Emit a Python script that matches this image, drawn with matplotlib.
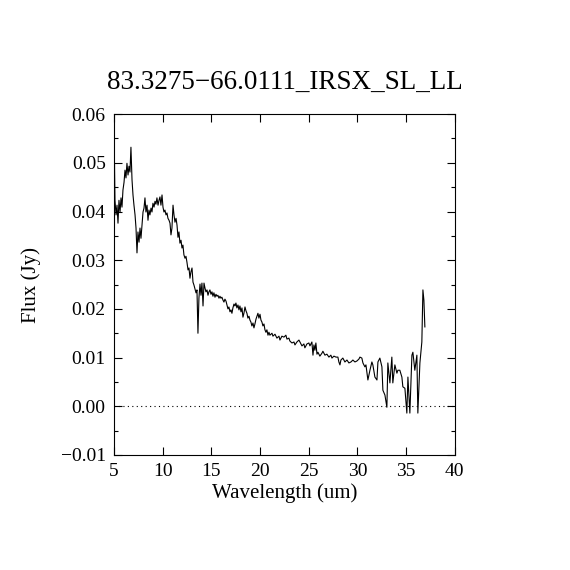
import numpy as np
import matplotlib
matplotlib.use("Agg")
import matplotlib.pyplot as plt
from matplotlib.ticker import MultipleLocator, FuncFormatter

# spectrum (wavelength in um, flux in Jy)
wave = np.array([
    5.00, 5.05, 5.10, 5.21, 5.31, 5.41, 5.51, 5.62, 5.72, 5.82, 5.92, 6.03, 6.13, 6.23,
    6.33, 6.44, 6.54, 6.64, 6.74, 6.85, 6.95, 7.05, 7.16, 7.26, 7.36, 7.46, 7.57, 7.67,
    7.77, 7.87, 7.98, 8.08, 8.18, 8.28, 8.39, 8.49, 8.59, 8.69, 8.80, 8.90, 9.00, 9.11,
    9.21, 9.31, 9.41, 9.52, 9.62, 9.72, 9.82, 9.93, 10.03, 10.13, 10.23, 10.34, 10.44,
    10.54, 10.65, 10.75, 10.85, 10.95, 11.06, 11.16, 11.26, 11.37, 11.47, 11.57, 11.67,
    11.77, 11.88, 11.98, 12.08, 12.18, 12.29, 12.39, 12.49, 12.60, 12.70, 12.80, 12.90,
    13.01, 13.11, 13.21, 13.31, 13.42, 13.52, 13.62, 13.72, 13.83, 13.93, 14.03, 14.14,
    14.24, 14.34, 14.44, 14.55, 14.65, 14.75, 14.85, 14.96, 15.06, 15.16, 15.26, 15.37,
    15.47, 15.57, 15.67, 15.78, 15.88, 15.98, 16.08, 16.19, 16.29, 16.39, 16.50, 16.60,
    16.70, 16.80, 16.91, 17.01, 17.11, 17.21, 17.32, 17.42, 17.52, 17.62, 17.73, 17.83,
    17.93, 18.04, 18.14, 18.24, 18.34, 18.45, 18.55, 18.65, 18.75, 18.86, 18.96, 19.06,
    19.16, 19.27, 19.37, 19.47, 19.58, 19.68, 19.78, 19.88, 19.99, 20.09, 20.19, 20.29,
    20.40, 20.50, 20.60, 20.70, 20.81, 20.91, 21.01, 21.22, 21.32, 21.53, 21.73, 21.94,
    22.04, 22.24, 22.45, 22.65, 22.76, 22.96, 23.06, 23.27, 23.48, 23.58, 23.78, 23.99,
    24.09, 24.30, 24.50, 24.60, 24.81, 25.01, 25.12, 25.32, 25.43, 25.53, 25.63, 25.73,
    25.84, 25.94, 26.14, 26.35, 26.45, 26.66, 26.86, 27.07, 27.27, 27.38, 27.58, 27.79,
    27.99, 28.09, 28.20, 28.30, 28.50, 28.71, 28.92, 29.12, 29.33, 29.53, 29.74, 29.94,
    30.15, 30.25, 30.45, 30.56, 30.76, 30.87, 30.97, 31.07, 31.28, 31.48, 31.58, 31.79,
    32.00, 32.10, 32.30, 32.51, 32.61, 32.82, 33.02, 33.12, 33.33, 33.53, 33.63, 33.84,
    34.05, 34.15, 34.35, 34.56, 34.66, 34.87, 35.07, 35.18, 35.38, 35.59, 35.69, 35.89,
    36.10, 36.20, 36.41, 36.61, 36.72, 36.82, 36.92])
flux = np.array([
    0.0347, 0.0499, 0.0423, 0.0393, 0.0413, 0.0376, 0.0423, 0.0399, 0.0428, 0.0409, 0.0444,
    0.0460, 0.0485, 0.0469, 0.0499, 0.0475, 0.0493, 0.0481, 0.0532, 0.0465, 0.0434, 0.0413,
    0.0393, 0.0366, 0.0315, 0.0358, 0.0337, 0.0366, 0.0345, 0.0372, 0.0399, 0.0407, 0.0428,
    0.0399, 0.0413, 0.0382, 0.0403, 0.0393, 0.0407, 0.0399, 0.0417, 0.0409, 0.0421, 0.0415,
    0.0428, 0.0413, 0.0423, 0.0430, 0.0413, 0.0434, 0.0409, 0.0399, 0.0403, 0.0393, 0.0397,
    0.0386, 0.0382, 0.0376, 0.0352, 0.0366, 0.0413, 0.0393, 0.0378, 0.0386, 0.0372, 0.0347,
    0.0358, 0.0335, 0.0341, 0.0325, 0.0331, 0.0311, 0.0304, 0.0308, 0.0296, 0.0280, 0.0284,
    0.0263, 0.0276, 0.0284, 0.0255, 0.0249, 0.0241, 0.0233, 0.0239, 0.0150, 0.0222, 0.0251,
    0.0228, 0.0253, 0.0206, 0.0253, 0.0243, 0.0235, 0.0239, 0.0228, 0.0235, 0.0239, 0.0230,
    0.0235, 0.0226, 0.0233, 0.0224, 0.0230, 0.0226, 0.0228, 0.0222, 0.0226, 0.0222, 0.0224,
    0.0218, 0.0214, 0.0220, 0.0216, 0.0208, 0.0200, 0.0204, 0.0194, 0.0198, 0.0191, 0.0202,
    0.0210, 0.0206, 0.0212, 0.0202, 0.0208, 0.0198, 0.0206, 0.0194, 0.0202, 0.0183, 0.0191,
    0.0204, 0.0196, 0.0191, 0.0181, 0.0185, 0.0177, 0.0173, 0.0165, 0.0171, 0.0161, 0.0169,
    0.0179, 0.0185, 0.0191, 0.0181, 0.0189, 0.0177, 0.0173, 0.0165, 0.0169, 0.0157, 0.0152,
    0.0157, 0.0146, 0.0152, 0.0146, 0.0150, 0.0144, 0.0148, 0.0140, 0.0144, 0.0136, 0.0144,
    0.0142, 0.0146, 0.0138, 0.0140, 0.0134, 0.0130, 0.0132, 0.0126, 0.0132, 0.0136, 0.0132,
    0.0124, 0.0128, 0.0120, 0.0128, 0.0130, 0.0124, 0.0132, 0.0105, 0.0126, 0.0115, 0.0130,
    0.0107, 0.0111, 0.0103, 0.0109, 0.0113, 0.0105, 0.0107, 0.0101, 0.0105, 0.0099, 0.0103,
    0.0101, 0.0101, 0.0091, 0.0085, 0.0095, 0.0099, 0.0091, 0.0095, 0.0089, 0.0091, 0.0095,
    0.0091, 0.0093, 0.0097, 0.0101, 0.0099, 0.0089, 0.0081, 0.0085, 0.0070, 0.0054, 0.0074,
    0.0091, 0.0085, 0.0060, 0.0054, 0.0091, 0.0099, 0.0081, 0.0033, 0.0023, -0.0002, 0.0089,
    0.0048, 0.0101, 0.0048, 0.0085, 0.0068, 0.0074, 0.0074, 0.0060, 0.0040, 0.0037, -0.0014,
    0.0060, -0.0014, 0.0105, 0.0111, 0.0074, 0.0105, -0.0014, 0.0089, 0.0132, 0.0239, 0.0218,
    0.0163])

title = "83.3275\u221266.0111_IRSX_SL_LL"
xlabel = "Wavelength (um)"
ylabel = "Flux (Jy)"

plt.rcParams['font.family'] = ['Liberation Serif', 'DejaVu Serif']

fig = plt.figure(figsize=(5.7, 5.7), dpi=100)
ax = fig.add_axes([0.2, 0.2018, 0.598, 0.598])

ax.plot(wave, flux, color='k', lw=0.8)
ax.axhline(0.0, color='k', lw=0.8, ls=(0, (1, 3)))

ax.set_xlim(5, 40)
ax.set_ylim(-0.01, 0.06)
ax.xaxis.set_major_locator(MultipleLocator(5))
ax.yaxis.set_major_locator(MultipleLocator(0.01))
ax.yaxis.set_minor_locator(MultipleLocator(0.005))
ax.yaxis.set_major_formatter(FuncFormatter(lambda v, p: f"{v:.2f}".replace("-", "\u2212")))
ax.tick_params(which='both', direction='in', top=True, right=True, width=0.8,
               labelsize=14, pad=6)
ax.tick_params(which='major', length=5.5)
ax.tick_params(which='minor', length=2.8)
for s in ax.spines.values():
    s.set_linewidth(0.8)

ax.set_title(title, fontsize=19.5, pad=18)
ax.set_xlabel(xlabel, fontsize=15, labelpad=2)
ax.set_ylabel(ylabel, fontsize=15, labelpad=14)

fig.savefig('out.png', dpi=100)
